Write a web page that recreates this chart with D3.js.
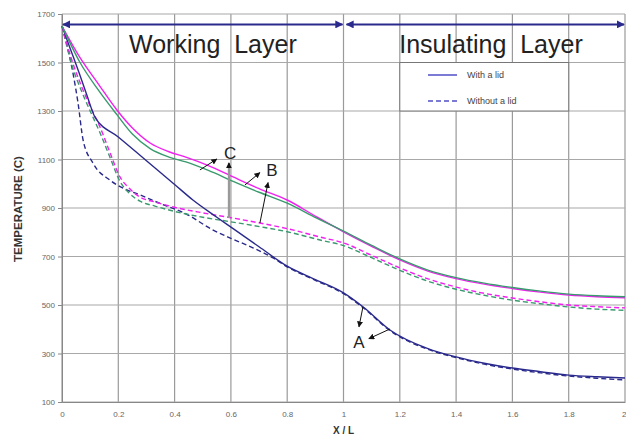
<html>
<head>
<title>Temperature profile</title>
<script src="https://d3js.org/d3.v7.min.js" charset="utf-8"></script>
<style>
body { margin: 0; background: white; font-family: Arial, "Liberation Sans", sans-serif; }
</style>
</head>
<body>
<script>
// chart values
var xTicks = [0, 0.2, 0.4, 0.6, 0.8, 1, 1.2, 1.4, 1.6, 1.8, 2];
var yTicks = [100, 300, 500, 700, 900, 1100, 1300, 1500, 1700];

var aLidX = [0, 0.03, 0.06, 0.09, 0.117, 0.2, 0.3, 0.4, 0.465, 0.55, 0.608, 0.7, 0.8, 0.9, 1.0, 1.07, 1.165, 1.3, 1.4, 1.5, 1.6, 1.7, 1.8, 1.9, 2];
var aLidT = [1650, 1555, 1460, 1360, 1275, 1193, 1095, 997, 933, 862, 815, 740, 660, 605, 550, 492, 397, 320, 286, 260, 240, 225, 211, 204, 199];

var aNoLidX = [0, 0.02, 0.04, 0.057, 0.075, 0.11, 0.17, 0.22, 0.277, 0.35, 0.44, 0.537, 0.6, 0.68, 0.75, 0.8, 0.9, 1.0, 1.07, 1.165, 1.3, 1.4, 1.5, 1.6, 1.7, 1.8, 1.9, 2];
var aNoLidT = [1650, 1560, 1450, 1333, 1180, 1085, 1015, 980, 954, 918, 876, 809, 775, 735, 694, 657, 602, 547, 489, 394, 317, 283, 256, 236, 220, 207, 198, 191];

var cLidX = [0, 0.064, 0.13, 0.195, 0.25, 0.313, 0.38, 0.44, 0.52, 0.608, 0.7, 0.8, 0.905, 1.0, 1.1, 1.2, 1.3, 1.4, 1.5, 1.6, 1.7, 1.8, 1.9, 2];
var cLidT = [1650, 1520, 1410, 1304, 1230, 1168, 1132, 1110, 1075, 1028, 980, 933, 863, 802, 742, 686, 640, 609, 586, 568, 553, 541, 534, 530];

var bLidX = cLidX;
var bLidT = [1650, 1500, 1385, 1285, 1205, 1145, 1110, 1090, 1055, 1010, 965, 920, 858, 805, 746, 690, 644, 613, 590, 572, 557, 545, 538, 534];

var cNoLidX = [0, 0.035, 0.07, 0.1, 0.135, 0.17, 0.206, 0.24, 0.277, 0.33, 0.4, 0.5, 0.6, 0.703, 0.8, 0.917, 1.0, 1.1, 1.2, 1.3, 1.4, 1.5, 1.6, 1.7, 1.8, 1.9, 2];
var cNoLidT = [1650, 1510, 1400, 1320, 1234, 1130, 1028, 980, 945, 925, 903, 880, 860, 838, 815, 780, 756, 705, 653, 608, 574, 548, 529, 513, 500, 493, 488];

var bNoLidX = cNoLidX;
var bNoLidT = [1650, 1490, 1380, 1300, 1210, 1110, 1010, 960, 928, 908, 886, 862, 843, 823, 802, 768, 745, 695, 643, 598, 565, 540, 520, 505, 492, 483, 478];

var seriesNames = ["A with lid", "A without lid", "C with lid", "B with lid", "C without lid", "B without lid"];
var legendLabels = ["With a lid", "Without a lid"];

var width = 626;
var height = 439;

var navy = "#2a2a8c";
var magenta = "#f020f0";
var green = "#3a9a6e";

var series = [
  {name: seriesNames[1], xs: aNoLidX, ts: aNoLidT, color: navy, dash: "5,3"},
  {name: seriesNames[5], xs: bNoLidX, ts: bNoLidT, color: green, dash: "5,3"},
  {name: seriesNames[4], xs: cNoLidX, ts: cNoLidT, color: magenta, dash: "5,3"},
  {name: seriesNames[0], xs: aLidX, ts: aLidT, color: navy, dash: null},
  {name: seriesNames[2], xs: cLidX, ts: cLidT, color: magenta, dash: null},
  {name: seriesNames[3], xs: bLidX, ts: bLidT, color: green, dash: null}
];

var x = d3.scaleLinear().domain([0, 2]).range([62, 625]);
var y = d3.scaleLinear().domain([100, 1700]).range([402, 14]);

var svg = d3.select("body")
  .append("svg")
  .attr("width", width)
  .attr("height", height);

var defs = svg.append("defs");
function marker(id, color, size) {
  defs.append("marker")
    .attr("id", id)
    .attr("viewBox", "0 0 10 10")
    .attr("refX", 9).attr("refY", 5)
    .attr("markerWidth", size).attr("markerHeight", size)
    .attr("markerUnits", "userSpaceOnUse")
    .attr("orient", "auto-start-reverse")
    .append("path")
    .attr("d", "M0,0 L10,5 L0,10 z")
    .attr("fill", color);
}
marker("blk", "#111", 6);
marker("blue", navy, 8);

// grid
var grid = svg.append("g");
grid.selectAll(".vg")
  .data(xTicks)
  .enter()
  .append("line")
  .attr("x1", function(d) { return x(d); })
  .attr("x2", function(d) { return x(d); })
  .attr("y1", y(1700)).attr("y2", y(100))
  .attr("stroke", "#9a9a9a")
  .attr("stroke-width", 1.2);
grid.selectAll(".hg")
  .data(yTicks)
  .enter()
  .append("line")
  .attr("x1", x(0)).attr("x2", x(2))
  .attr("y1", function(d) { return y(d); })
  .attr("y2", function(d) { return y(d); })
  .attr("stroke", "#a8a8a8")
  .attr("stroke-width", 1.2);

// axes
var yAxis = svg.append("g")
  .attr("transform", "translate(" + x(0) + ",0)")
  .call(d3.axisLeft(y).tickValues(yTicks).tickSize(4).tickFormat(d3.format("d")));
var xAxis = svg.append("g")
  .attr("transform", "translate(0," + y(100) + ")")
  .call(d3.axisBottom(x).tickValues(xTicks).tickSize(0).tickPadding(9).tickFormat(function(d) { return String(d); }));
[yAxis, xAxis].forEach(function(ax) {
  ax.selectAll("path,line").attr("stroke", "#888");
  ax.selectAll("text").attr("fill", "#666").style("font-size", "8px").style("font-family", "Arial, 'Liberation Sans', sans-serif");
});
// keep the last x label inside the window
xAxis.selectAll(".tick text").filter(function(d) { return d === 2; }).attr("text-anchor", "end").attr("dx", 1);

svg.append("text")
  .attr("transform", "translate(22,209) rotate(-90)")
  .attr("text-anchor", "middle")
  .style("font-size", "11.5px").style("font-weight", "bold")
  .attr("fill", "#333")
  .text("TEMPERATURE (C)");
svg.append("text")
  .attr("x", x(1)).attr("y", 434)
  .attr("text-anchor", "middle")
  .style("font-size", "10px").style("font-weight", "bold")
  .attr("fill", "#333")
  .text("X / L");

// curves
var line = d3.line()
  .x(function(d) { return x(d[0]); })
  .y(function(d) { return y(d[1]); })
  .curve(d3.curveMonotoneX);

svg.append("g").selectAll("path")
  .data(series)
  .enter()
  .append("path")
  .attr("d", function(s) { return line(d3.zip(s.xs, s.ts)); })
  .attr("fill", "none")
  .attr("stroke", function(s) { return s.color; })
  .attr("stroke-width", 1.4)
  .attr("stroke-dasharray", function(s) { return s.dash; });

// layer arrows + titles
var topT = 1657;
svg.append("line")
  .attr("x1", x(0) + 1).attr("x2", x(1) - 1)
  .attr("y1", y(topT)).attr("y2", y(topT))
  .attr("stroke", navy).attr("stroke-width", 2)
  .attr("marker-start", "url(#blue)").attr("marker-end", "url(#blue)");
svg.append("line")
  .attr("x1", x(1) + 3).attr("x2", x(2) - 1)
  .attr("y1", y(topT)).attr("y2", y(topT))
  .attr("stroke", navy).attr("stroke-width", 2)
  .attr("marker-start", "url(#blue)").attr("marker-end", "url(#blue)");

svg.append("text")
  .attr("x", x(0.536)).attr("y", 53)
  .attr("text-anchor", "middle")
  .style("font-size", "25px").attr("fill", "#222")
  .text("Working\u00a0\u00a0Layer");
svg.append("text")
  .attr("x", x(1.524)).attr("y", 53)
  .attr("text-anchor", "middle")
  .style("font-size", "25px").attr("fill", "#222")
  .text("Insulating\u00a0\u00a0Layer");

// legend
var lg = svg.append("g");
lg.append("rect")
  .attr("x", x(1.2)).attr("y", y(1500))
  .attr("width", x(1.8) - x(1.2)).attr("height", y(1300) - y(1500))
  .attr("fill", "white").attr("stroke", "#777").attr("stroke-width", 1);
lg.selectAll("line")
  .data(legendLabels)
  .enter()
  .append("line")
  .attr("x1", 428).attr("x2", 457)
  .attr("y1", function(d, i) { return 75 + i * 26; })
  .attr("y2", function(d, i) { return 75 + i * 26; })
  .attr("stroke", "#7b7bd6").attr("stroke-width", 2)
  .attr("stroke-dasharray", function(d, i) { return i ? "5,3" : null; });
lg.selectAll("text")
  .data(legendLabels)
  .enter()
  .append("text")
  .attr("x", 467)
  .attr("y", function(d, i) { return 78 + i * 26; })
  .style("font-size", "9px").attr("fill", "#444")
  .text(function(d) { return d; });

// annotation arrows (in data units)
var arrows = [
  [0.49, 1057, 0.55, 1102],
  [0.703, 838, 0.732, 1005],
  [0.65, 995, 0.703, 1046],
  [1.069, 492, 1.055, 410],
  [1.165, 401, 1.09, 361]
];
svg.append("line")
  .attr("x1", x(0.593)).attr("x2", x(0.593))
  .attr("y1", y(859)).attr("y2", y(1084))
  .attr("stroke", "#999").attr("stroke-width", 2.2);
svg.append("line")
  .attr("x1", x(0.593)).attr("x2", x(0.593))
  .attr("y1", y(1070)).attr("y2", y(1086))
  .attr("stroke", "#111").attr("stroke-width", 1)
  .attr("marker-end", "url(#blk)");
svg.append("g").selectAll("line")
  .data(arrows)
  .enter()
  .append("line")
  .attr("x1", function(d) { return x(d[0]); })
  .attr("y1", function(d) { return y(d[1]); })
  .attr("x2", function(d) { return x(d[2]); })
  .attr("y2", function(d) { return y(d[3]); })
  .attr("stroke", "#111").attr("stroke-width", 1)
  .attr("marker-end", "url(#blk)");

var labels = [["C", 0.597, 1127], ["B", 0.746, 1057], ["A", 1.055, 347]];
svg.append("g").selectAll("text")
  .data(labels)
  .enter()
  .append("text")
  .attr("x", function(d) { return x(d[1]); })
  .attr("y", function(d) { return y(d[2]) + 6; })
  .attr("text-anchor", "middle")
  .style("font-size", "17px").attr("fill", "#222")
  .text(function(d) { return d[0]; });
</script>
</body>
</html>
